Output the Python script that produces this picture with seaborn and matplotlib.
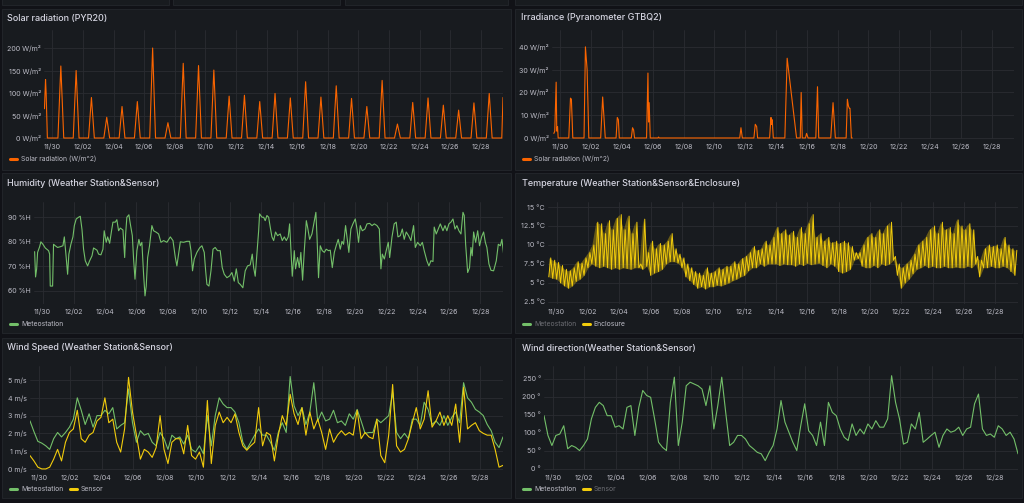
import numpy as np
import pandas as pd
import matplotlib.pyplot as plt
import seaborn as sns
from matplotlib.lines import Line2D
from matplotlib.patches import Rectangle

# ---------------- data (x = days since 11/30 00:00) ----------------
x_range = (-0.55, 29.45)
tick_days = list(range(0, 29, 2))
tick_labels = ["11/30", "12/02", "12/04", "12/06", "12/08", "12/10", "12/12", "12/14",
               "12/16", "12/18", "12/20", "12/22", "12/24", "12/26", "12/28"]

# Solar radiation (PYR20): daily peaks 11/30 .. 12/28, plus partial first/last day
solar_peak_day = list(range(0, 29))
solar_peak = [160, 150, 90, 46, 70, 81, 200, 34, 166, 161,
              151, 93, 95, 81, 99, 89, 125, 91, 116, 88,
              70, 128, 31, 79, 89, 73, 62, 78, 99]
solar_start_t = [-0.52, -0.45, -0.41, -0.33]
solar_start_v = [65, 130, 100, 0]
solar_end_t = [29.37, 29.45]
solar_end_v = [0, 90]

# Irradiance (Pyranometer GTBQ2)
irr_t = [-0.43, -0.37, -0.28, -0.24, -0.19, -0.15,
         0.54, 0.65, 0.71, 0.80,
         1.53, 1.62, 1.73, 1.84,
         2.61, 2.74, 2.91,
         3.61, 3.69, 3.76, 3.82,
         4.60, 4.68, 4.75, 4.81,
         5.59, 5.68, 5.72, 5.76, 5.83,
         6.33, 6.37, 6.41,
         11.64, 11.72, 11.81,
         12.56, 12.65, 12.74, 12.80,
         13.58, 13.67, 13.71, 13.75, 13.82,
         14.57, 14.72, 15.33,
         15.57, 15.63, 15.70,
         15.91, 15.98, 16.08,
         16.58, 16.69, 16.77,
         17.55, 17.70, 17.85,
         18.55, 18.63, 18.70, 18.76, 18.80, 18.89, 18.95]
irr_v = [2, 3, 24.5, 3, 5, 0,
         0, 17.5, 17, 0,
         0, 40, 30, 0,
         0, 18, 0,
         0, 9, 8, 0,
         0, 4.5, 3.5, 0,
         0, 28.5, 7, 15.5, 0,
         0, 0.4, 0,
         0, 4.5, 0,
         0, 6, 5, 0,
         0, 9, 6, 8, 0,
         0, 35, 0,
         0, 20, 0,
         0, 2, 0,
         0, 22.5, 0,
         0, 15.5, 0,
         0, 17, 14, 13, 13, 0, 0]

# Humidity (Meteostation)
hum_t = [-0.51, -0.45, -0.38, -0.32, -0.19, -0.11, 0.02, 0.17, 0.38, 0.45,
         0.49, 0.64, 0.70, 0.81, 0.96, 1.13, 1.30, 1.39, 1.51, 1.60,
         1.68, 1.81, 1.94, 2.03, 2.15, 2.30, 2.41, 2.52, 2.62, 2.73,
         2.88, 3.01, 3.16, 3.26, 3.48, 3.58, 3.73, 3.86, 3.94, 4.07,
         4.16, 4.29, 4.41, 4.50, 4.65, 4.75, 4.86, 4.97, 5.14, 5.25,
         5.31, 5.39, 5.52, 5.61, 5.74, 5.82, 5.91, 6.03, 6.16, 6.25,
         6.35, 6.46, 6.55, 6.63, 6.72, 6.84, 6.99, 7.10, 7.27, 7.42,
         7.57, 7.74, 7.95, 8.17, 8.34, 8.49, 8.59, 8.70, 8.81, 9.02,
         9.23, 9.40, 9.49, 9.59, 9.70, 9.87, 10.04, 10.19, 10.34, 10.43,
         10.51, 10.64, 10.77, 10.90, 11.04, 11.19, 11.36, 11.49, 11.62, 11.79,
         11.96, 12.11, 12.26, 12.39, 12.52, 12.64, 12.81, 12.96, 13.11, 13.28,
         13.41, 13.50, 13.60, 13.71, 13.82, 13.88, 14.03, 14.14, 14.24, 14.35,
         14.46, 14.56, 14.67, 14.78, 14.90, 15.03, 15.20, 15.33, 15.46, 15.59,
         15.71, 15.80, 15.88, 15.97, 16.10, 16.18, 16.31, 16.42, 16.52, 16.63,
         16.74, 16.87, 16.95, 17.08, 17.23, 17.38, 17.48, 17.55, 17.65, 17.76,
         17.89, 18.02, 18.14, 18.29, 18.40, 18.53, 18.66, 18.78, 18.91, 19.04,
         19.15, 19.25, 19.38, 19.47, 19.59, 19.72, 19.85, 20.00, 20.11, 20.21,
         20.32, 20.45, 20.62, 20.75, 20.92, 21.07, 21.22, 21.39, 21.54, 21.64,
         21.73, 21.86, 21.98, 22.11, 22.20, 22.35, 22.49, 22.62, 22.73, 22.88,
         23.01, 23.13, 23.26, 23.41, 23.56, 23.73, 23.84, 23.99, 24.16, 24.29,
         24.41, 24.58, 24.71, 24.84, 24.97, 25.05, 25.18, 25.31, 25.44, 25.61,
         25.74, 25.86, 25.99, 26.12, 26.25, 26.38, 26.50, 26.63, 26.76, 26.89,
         26.97, 27.06, 27.19, 27.31, 27.40, 27.48, 27.57, 27.70, 27.83, 27.95,
         28.08, 28.21, 28.32, 28.42, 28.55, 28.68, 28.85, 29.02, 29.15, 29.28,
         29.38, 29.49]
hum_v = [76, 65.7, 69, 75.7, 78, 80, 79, 77.5, 76.4, 75,
         62, 62, 79, 78.4, 77.7, 78, 78.4, 82, 73.6, 66.8,
         75, 79, 82, 86.6, 89.3, 90, 90.4, 85, 77, 72.3,
         70.2, 72.3, 74.3, 77.5, 76.6, 75, 74.7, 77, 84.5, 79.8,
         82, 79.4, 84.5, 88, 88, 89, 84.5, 85.6, 84.8, 73.6,
         83, 90, 91, 87.3, 82.5, 73, 64.8, 76.4, 81, 78.4,
         79.8, 66.8, 58, 62, 73.6, 78.4, 86.6, 84.5, 83.9, 83.2,
         79.8, 80.5, 79.8, 82, 80.5, 73.6, 70.2, 75, 80, 79.8,
         80.2, 80.2, 76.4, 68.2, 73, 75.7, 77.5, 78.4, 75.7, 68.2,
         62.7, 62, 68.2, 77, 77.7, 76.4, 76.4, 69.5, 66.8, 65.4,
         66.1, 67.5, 64, 69, 63.4, 62.7, 61.3, 68.2, 70.2, 70.6,
         75, 69.5, 66, 75, 84.5, 91.4, 90, 90, 88.6, 90.7,
         90, 86, 82, 80.5, 84, 82.5, 83.2, 80.5, 82, 80.5,
         82, 87.3, 77, 66, 76.4, 69, 73.6, 69.5, 75.7, 64.4,
         76.4, 88.6, 86, 81, 83.2, 88.6, 92, 82.5, 65.4, 78.4,
         76.4, 75.7, 77, 76.4, 76.6, 69.5, 75.7, 78.4, 81, 77,
         80.2, 79, 86.6, 82, 75.7, 85.2, 87.3, 89.3, 85.2, 79.8,
         86.6, 84.5, 85.2, 87.3, 87.5, 86.6, 87.3, 86.6, 85.2, 69,
         75, 73, 76.4, 79.8, 73.6, 82, 87.3, 88, 82, 82.5,
         85.2, 81, 84, 82.5, 80.5, 86.6, 77.7, 79.8, 78.4, 79.8,
         76.4, 72.3, 70.2, 72.3, 72, 86, 83.2, 85.2, 87.3, 84.5,
         86.6, 84.5, 87.3, 88, 89.3, 85.2, 86.6, 84.5, 83.2, 92,
         90.7, 79, 67.5, 69.5, 77.7, 74.3, 84, 79.8, 84.5, 78.4,
         82, 84, 79.8, 77.7, 71, 68.4, 68.2, 72.3, 79, 78.4,
         81, 75]

# Temperature (Enclosure): band lows / highs every 6 h from -0.5 d
temp_start, temp_step = -0.5, 0.25
temp_low = [5.8, 5.6, 5.5, 5.0, 4.6, 4.3, 4.6, 5.2, 5.5, 6.0,
            7.0, 7.5, 7.2, 7.0, 7.2, 7.0, 6.8, 7.0, 6.8, 7.0,
            6.9, 6.8, 7.0, 7.0, 6.8, 7.2, 6.0, 6.3, 6.5, 6.8,
            7.5, 7.8, 7.8, 7.6, 7.0, 5.8, 5.3, 4.8, 4.3, 4.5,
            4.2, 4.5, 4.5, 4.7, 4.6, 4.8, 5.0, 5.3, 5.5, 5.8,
            6.0, 6.6, 7.0, 7.0, 7.5, 7.2, 7.5, 7.5, 7.5, 7.3,
            7.5, 7.4, 7.4, 7.2, 7.5, 7.3, 7.6, 7.4, 7.5, 7.6,
            7.3, 7.0, 7.5, 7.2, 6.5, 6.3, 6.5, 6.8, 8.0, 8.2,
            7.2, 7.0, 7.0, 7.3, 7.0, 7.5, 7.3, 7.5, 8.0, 6.0,
            4.3, 5.0, 5.5, 6.2, 6.8, 7.0, 7.3, 7.0, 7.2, 7.0,
            7.0, 7.2, 7.0, 7.0, 7.1, 7.0, 7.0, 7.2, 7.0, 7.5,
            5.8, 7.0, 7.0, 7.2, 7.0, 7.0, 7.2, 7.0, 6.5, 6.0]
temp_high = [8.3, 8.0, 7.7, 7.3, 6.8, 6.6, 7.0, 7.8, 7.6, 8.3,
             9.0, 10.0, 13.0, 12.8, 11.5, 13.2, 12.0, 13.5, 14.0, 12.0,
             13.8, 11.5, 13.0, 7.5, 13.4, 9.0, 10.5, 9.5, 10.2, 10.0,
             10.5, 11.5, 9.5, 8.8, 8.3, 7.5, 7.0, 6.5, 6.3, 6.0,
             7.0, 6.3, 6.5, 7.0, 6.8, 7.2, 7.2, 7.8, 7.5, 8.2,
             8.5, 9.0, 9.8, 9.3, 9.5, 10.5, 10.0, 11.0, 12.3, 11.5,
             12.0, 11.3, 11.8, 11.0, 12.3, 11.5, 12.8, 14.0, 11.0, 11.5,
             10.5, 11.0, 10.3, 10.5, 10.2, 10.5, 10.3, 9.8, 9.0, 9.0,
             10.0, 11.0, 11.5, 11.0, 12.0, 11.5, 12.5, 13.0, 8.5, 7.5,
             7.0, 7.5, 8.0, 8.8, 10.0, 10.5, 11.0, 12.0, 12.5, 11.5,
             13.0, 12.0, 12.3, 11.5, 13.3, 12.5, 12.0, 12.8, 12.0, 8.5,
             8.0, 9.5, 10.0, 9.8, 10.0, 9.5, 11.0, 10.0, 9.5, 9.3]

# Wind speed / direction: every 6 h from -0.55 d
wind_start, wind_step = -0.55, 0.25
wind_meteo = [2.7, 2.1, 1.55, 1.45, 1.3, 1.1, 1.7, 2.05, 1.8, 2.05,
              2.35, 2.8, 4.0, 3.3, 2.5, 3.1, 2.35, 3.0, 3.0, 3.3,
              3.1, 3.45, 2.25, 2.45, 2.6, 4.5, 2.6, 1.5, 2.15, 1.9,
              2.0, 1.5, 1.3, 2.05, 1.7, 1.1, 1.9, 1.7, 1.8, 1.4,
              1.9, 1.1, 0.95, 1.3, 0.85, 3.0, 1.3, 3.0, 4.0, 3.65,
              3.45, 3.45, 3.2, 2.6, 1.5, 1.1, 1.5, 1.9, 2.25, 1.9,
              1.9, 1.5, 1.05, 2.05, 2.6, 2.05, 5.2, 3.55, 3.0, 3.45,
              2.5, 3.2, 4.85, 2.7, 3.2, 2.7, 2.8, 3.3, 2.6, 2.7,
              2.45, 3.1, 2.8, 3.35, 2.7, 2.0, 2.05, 2.05, 2.8, 2.6,
              2.8, 3.0, 4.3, 2.05, 1.7, 2.0, 1.7, 2.8, 2.8, 2.45,
              3.75, 3.35, 2.5, 2.7, 2.45, 3.0, 2.45, 2.9, 3.2, 2.6,
              4.85, 4.0, 3.75, 3.35, 3.2, 3.0, 2.5, 2.15, 1.5, 1.2,
              1.8]
wind_sensor = [0.75, 0.45, 0.1, 0.0, 0.0, 0.1, 0.55, 1.1, 0.45, 1.5,
               2.05, 2.25, 3.3, 1.7, 1.5, 1.9, 2.05, 2.7, 2.9, 4.0,
               2.6, 2.8, 1.5, 0.95, 2.25, 5.15, 3.2, 1.9, 0.55, 1.1,
               0.95, 0.65, 1.2, 3.0, 1.1, 0.3, 1.5, 1.7, 1.7, 0.85,
               2.45, 0.75, 0.55, 0.95, 0.1, 3.85, 0.3, 2.45, 3.2, 2.6,
               2.9, 2.6, 3.1, 2.05, 1.3, 1.05, 1.3, 1.5, 3.45, 1.3,
               2.05, 1.9, 0.45, 1.9, 3.0, 2.45, 4.2, 3.1, 2.5, 3.45,
               1.9, 3.2, 2.25, 2.8, 2.05, 1.1, 2.25, 1.5, 1.9, 2.15,
               1.9, 2.05, 1.9, 3.3, 1.7, 2.05, 1.8, 1.7, 2.8, 0.75,
               0.35, 1.9, 4.75, 1.3, 0.95, 1.1, 1.7, 2.6, 3.45, 2.25,
               2.8, 4.4, 2.35, 2.7, 3.2, 2.45, 3.0, 2.45, 3.65, 1.5,
               4.6, 2.25, 2.45, 2.6, 2.15, 2.0, 1.9, 1.9, 1.1, 0.1,
               0.2]
wind_dir = [148, 93, 65, 93, 97, 120, 56, 65, 60, 51,
            65, 83, 139, 171, 185, 176, 148, 148, 116, 120,
            111, 171, 176, 93, 171, 218, 204, 199, 139, 74,
            60, 51, 185, 255, 65, 130, 231, 241, 236, 231,
            222, 176, 231, 111, 176, 255, 157, 65, 74, 93,
            93, 83, 65, 56, 46, 42, 23, 46, 65, 111,
            190, 130, 102, 74, 51, 120, 181, 106, 93, 65,
            130, 65, 185, 157, 148, 111, 88, 79, 125, 93,
            111, 97, 125, 111, 134, 116, 116, 139, 259, 185,
            139, 69, 74, 125, 111, 157, 74, 83, 93, 102,
            60, 93, 111, 102, 106, 116, 93, 111, 116, 181,
            208, 111, 93, 97, 88, 120, 111, 93, 102, 83,
            42]

# ---------------- style ----------------
BG, PANEL, BORDER = "#111217", "#181b1f", "#22252a"
GRID = "#2a2c31"
TITLE_C, TICK_C, DIM_C = "#d4d4e0", "#bcbcc6", "#6c6d73"
ORANGE, GREEN, YELLOW = "#FA6400", "#73BF69", "#F2CC0C"
TICK_FS, LEG_FS, TITLE_FS = 5.1, 4.9, 6.5

sns.set_style("dark")
plt.rcParams["font.family"] = ["Inter", "DejaVu Sans"]
W, H = 1024, 503
fig = plt.figure(figsize=(W / 100, H / 100), dpi=100, facecolor=BG)


def panel(x0, y0, x1, y1):
    fig.add_artist(Rectangle((x0 / W, 1 - y1 / H), (x1 - x0) / W, (y1 - y0) / H,
                             transform=fig.transFigure, fc=PANEL, ec=BORDER, lw=0.7, zorder=-1))


def axes(l, t, r, b):
    return fig.add_axes([l / W, 1 - b / H, (r - l) / W, (b - t) / H])


def style(ax, yticks, fmt, ylim):
    ax.set_facecolor("none")
    ax.set_xlim(*x_range)
    ax.set_ylim(*ylim)
    ax.set_xticks(tick_days, tick_labels)
    ax.set_yticks(yticks, [fmt.format(v) for v in yticks])
    ax.grid(True, color=GRID, lw=0.6)
    for s in ax.spines.values():
        s.set_visible(False)
    ax.tick_params(axis="both", length=0, colors=TICK_C, labelsize=TICK_FS)
    ax.tick_params(axis="x", pad=3.0)
    ax.tick_params(axis="y", pad=2.2)
    ax.set_xlabel("")
    ax.set_ylabel("")


def legend(ax, x, y, items):
    handles = [Line2D([], [], color=c, lw=2.2) for _, c, _ in items]
    leg = ax.legend(handles, [n for n, _, _ in items], loc="center left",
                    bbox_to_anchor=(x / W, 1 - y / H), bbox_transform=fig.transFigure,
                    frameon=False, ncol=len(items), fontsize=LEG_FS, handlelength=1.0,
                    handletextpad=0.6, columnspacing=1.0, borderpad=0, borderaxespad=0)
    for txt, (_, _, on) in zip(leg.get_texts(), items):
        txt.set_color(TICK_C if on else DIM_C)


def title(x, y, s):
    fig.text(x / W, 1 - y / H, s, color=TITLE_C, fontsize=TITLE_FS, fontweight="medium",
             ha="left", va="center")


# panels (top strip is the cut-off row above)
for x0, x1 in [(2, 169), (173, 340), (345, 508), (515, 1022)]:
    panel(x0, -10, x1, 5)
for y0, y1 in [(9, 170), (173, 333), (338, 498)]:
    panel(2, y0, 511, y1)
    panel(515, y0, 1022, y1)

# --- Solar radiation
solar_t, solar_v = list(solar_start_t), list(solar_start_v)
for d, p in zip(solar_peak_day, solar_peak):
    solar_t += [d + 0.36, d + 0.55, d + 0.74]
    solar_v += [0, p, 0]
solar_t += solar_end_t
solar_v += solar_end_v
ax1 = axes(44, 30, 503, 139)
sns.lineplot(x=solar_t, y=solar_v, ax=ax1, color=ORANGE, lw=0.8, estimator=None)
style(ax1, [0, 50, 100, 150, 200], "{:.0f} W/m²", (-2.2, 240))
title(7, 18, "Solar radiation (PYR20)")
legend(ax1, 10, 159, [("Solar radiation (W/m^2)", ORANGE, True)])

# --- Irradiance
ax2 = axes(552, 30, 1014, 139)
sns.lineplot(x=irr_t, y=irr_v, ax=ax2, color=ORANGE, lw=0.8, estimator=None)
style(ax2, [0, 10, 20, 30, 40], "{:.0f} W/m²", (-0.45, 47.4))
title(521, 18, "Irradiance (Pyranometer GTBQ2)")
legend(ax2, 523, 159, [("Solar radiation (W/m^2)", ORANGE, True)])

# --- Humidity
ax3 = axes(34, 202, 503, 304)
sns.lineplot(x=hum_t, y=hum_v, ax=ax3, color=GREEN, lw=0.8, estimator=None)
style(ax3, [60, 70, 80, 90], "{:.0f} %H", (54.7, 96.2))
title(7, 183, "Humidity (Weather Station&Sensor)")
legend(ax3, 10, 324, [("Meteostation", GREEN, True)])

# --- Temperature (enclosure band)
n = len(temp_low)
t_low = temp_start + temp_step * np.arange(n)
temp_t = np.ravel(np.column_stack([t_low, t_low + temp_step / 2]))
temp_v = np.ravel(np.column_stack([temp_low, temp_high]))
ax4 = axes(548, 202, 1018, 304)
ax4.fill_between(t_low, temp_low, temp_high, color="#d9b40a", alpha=0.4, lw=0)
sns.lineplot(x=temp_t, y=temp_v, ax=ax4, color=YELLOW, lw=0.7, estimator=None)
style(ax4, [2.5, 5, 7.5, 10, 12.5, 15], "{:g} °C", (2.23, 15.66))
title(522, 183, "Temperature (Weather Station&Sensor&Enclosure)")
legend(ax4, 523, 324, [("Meteostation", GREEN, False), ("Enclosure", YELLOW, True)])

# --- Wind speed
wind_t = wind_start + wind_step * np.arange(len(wind_meteo))
ax5 = axes(30, 366, 503, 470)
sns.lineplot(x=wind_t, y=wind_meteo, ax=ax5, color=GREEN, lw=0.8, estimator=None)
sns.lineplot(x=wind_t, y=wind_sensor, ax=ax5, color=YELLOW, lw=0.8, estimator=None)
style(ax5, [0, 1, 2, 3, 4, 5], "{:.0f} m/s", (-0.06, 5.79))
title(7, 348, "Wind Speed (Weather Station&Sensor)")
legend(ax5, 10, 489, [("Meteostation", GREEN, True), ("Sensor", YELLOW, True)])

# --- Wind direction
ax6 = axes(544, 366, 1018, 470)
sns.lineplot(x=wind_t, y=wind_dir, ax=ax6, color=GREEN, lw=0.8, estimator=None)
style(ax6, [0, 50, 100, 150, 200, 250], "{:.0f} °", (-3, 286))
title(522, 348, "Wind direction(Weather Station&Sensor)")
legend(ax6, 523, 489, [("Meteostation", GREEN, True), ("Sensor", YELLOW, False)])

fig.savefig("out.png", dpi=100, facecolor=BG)
